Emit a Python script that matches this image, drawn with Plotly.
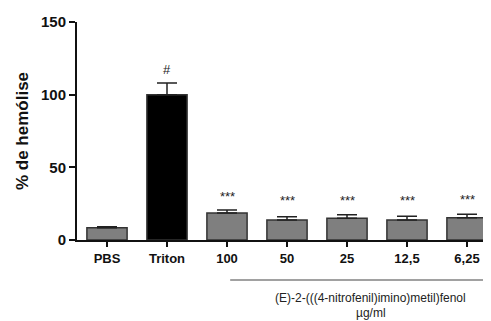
import plotly.graph_objects as go

categories = ["PBS", "Triton", "100", "50", "25", "12,5", "6,25"]
values = [8.5, 100, 18.5, 13.8, 14.9, 13.8, 15.3]
errors = [0.6, 8.0, 2.2, 2.2, 2.4, 2.6, 2.4]
colors = ["#7f7f7f", "#000000", "#7f7f7f", "#7f7f7f", "#7f7f7f", "#7f7f7f", "#7f7f7f"]
marks = ["", "#", "***", "***", "***", "***", "***"]
mark_y = [0, 117, 30, 27.5, 27, 27.5, 28]
y_ticks = [0, 50, 100, 150]

fig = go.Figure()
fig.add_trace(go.Bar(
    x=categories, y=values, width=0.67,
    marker=dict(color=colors, line=dict(color="#333333", width=1.5)),
    error_y=dict(type="data", symmetric=False, array=errors, arrayminus=[0]*len(errors),
                 color="#222222", thickness=1.5, width=10),
))

for i, (m, yv) in enumerate(zip(marks, mark_y)):
    if m:
        fig.add_annotation(x=i, y=yv, text=m, showarrow=False,
                           font=dict(family="Liberation Sans", size=13, color="#222222"))

fig.add_shape(type="line", xref="paper", yref="paper", x0=0.37, x1=1.0, y0=-0.1835, y1=-0.1835,
              line=dict(color="#444444", width=1.2))
fig.add_annotation(xref="paper", yref="paper", x=0.71, y=-0.268, showarrow=False,
                   xanchor="center", yanchor="middle",
                   text="(E)-2-(((4-nitrofenil)imino)metil)fenol",
                   font=dict(family="Liberation Sans", size=12, color="#222222"))
fig.add_annotation(xref="paper", yref="paper", x=0.71, y=-0.333, showarrow=False,
                   xanchor="center", yanchor="middle",
                   text="µg/ml",
                   font=dict(family="Liberation Sans", size=12, color="#222222"))

fig.update_layout(
    width=483, height=313,
    margin=dict(l=69, r=0, t=14, b=81),
    paper_bgcolor="white", plot_bgcolor="white",
    showlegend=False,
    font=dict(family="Liberation Sans", color="#111111"),
    xaxis=dict(type="category", range=[-0.5, 6.4], showline=True, linecolor="#111111", linewidth=2,
               ticks="outside", ticklen=5, tickwidth=2, tickcolor="#111111",
               tickfont=dict(size=13, family="Liberation Sans", weight="bold"), showgrid=False),
    yaxis=dict(range=[0, 150], tickvals=y_ticks, showline=True, linecolor="#111111", linewidth=2,
               ticks="outside", ticklen=6, tickwidth=2, tickcolor="#111111",
               tickfont=dict(size=15, family="Liberation Sans", weight="bold"),
               showgrid=False, zeroline=False,
               title=dict(text="% de hemólise", font=dict(size=17, family="Liberation Sans", weight="bold"),
                          standoff=8)),
)

fig.write_html("out.html")
